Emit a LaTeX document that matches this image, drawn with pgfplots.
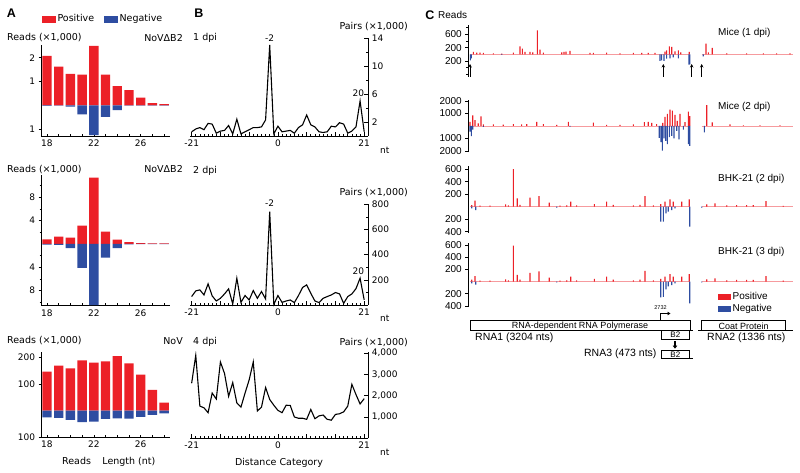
\documentclass[border=0pt]{standalone}
\usepackage{pgfplots}
\usepackage{pgfplotstable}
\pgfplotsset{compat=1.18}
\usepackage{fontspec}
\setmainfont{DejaVu Sans}
\newfontfamily\arl{Liberation Sans}
\usetikzlibrary{arrows.meta}
\definecolor{cred}{RGB}{236,32,39}
\definecolor{cblue}{RGB}{46,77,161}
\newcommand{\fA}{\fontsize{9.5}{11}\selectfont}
\newcommand{\fT}{\fontsize{9}{10}\selectfont}
\newcommand{\fC}{\arl\fontsize{10}{12}\selectfont}

% ---------- Panel A data ----------
\pgfplotstableread{
x pos neg
18 2.08 -0.02
19 1.62 -0.01
20 1.32 -0.06
21 1.29 -0.38
22 2.50 -1.25
23 1.29 -0.49
24 0.81 -0.20
25 0.64 -0.01
26 0.32 -0.01
27 0.09 -0.01
28 0.05 -0.01
}\dataAa
\pgfplotstableread{
x pos neg
18 0.80 -0.12
19 1.25 -0.17
20 1.08 -0.69
21 3.14 -4.10
22 11.40 -10.50
23 2.10 -2.35
24 0.74 -0.69
25 0.30 -0.05
26 0.15 -0.03
27 0.12 -0.03
28 0.10 -0.03
}\dataAb
\pgfplotstableread{
x pos neg
18 147 -25
19 170 -27
20 160 -35
21 190 -43
22 181 -41
23 186 -31
24 206 -29
25 179 -30
26 136 -23
27 79 -16
28 30 -10
}\dataAc
% ---------- Panel B data ----------
\pgfplotstableread{
x y
-21 0.6
-20 1.0
-19 1.2
-18 0.9
-17 1.8
-16 1.7
-15 0.4
-14 0.7
-13 0.8
-12 1.5
-11 0.3
-10 2.4
-9 0.3
-8 0.6
-7 0.9
-6 1.2
-5 1.2
-4 1.3
-3 2.3
-2 13.0
-1 0.3
0 1.4
1 0.6
2 0.7
3 0.8
4 0.4
5 1.2
6 1.6
7 3.0
8 1.6
9 1.3
10 0.6
11 0.5
12 0.6
13 1.4
14 1.3
15 1.9
16 1.7
17 0.4
18 0.7
19 1.3
20 5.0
21 0.6
}\dataBa
\pgfplotstableread{
x y
-21 67
-20 112
-19 120
-18 80
-17 168
-16 72
-15 32
-14 53
-13 88
-12 128
-11 8
-10 213
-9 21
-8 75
-7 40
-6 115
-5 53
-4 107
-3 48
-2 741
-1 5
0 75
1 21
2 32
3 40
4 19
5 75
6 139
7 160
8 93
9 32
10 19
11 53
12 67
13 80
14 99
15 88
16 13
17 67
18 88
19 130
20 213
21 40
}\dataBb
\pgfplotstableread{
x y
-21 2580
-20 3890
-19 1510
-18 1430
-17 1200
-16 2120
-15 1840
-14 3580
-13 3040
-12 1970
-11 2610
-10 1660
-9 1460
-8 2120
-7 2740
-6 3580
-5 1280
-4 1460
-3 2380
-2 1820
-1 1550
0 1310
1 1200
2 1550
3 1540
4 1000
5 940
6 940
7 890
8 1350
9 920
10 1050
11 1090
12 890
13 850
14 1120
15 1150
16 1240
17 1510
18 2530
19 2050
20 1610
21 1860
}\dataBc
% ---------- Panel C data (position in nt, reads) ----------
\pgfplotstableread{
x y
49 70
97 50
146 50
194 40
340 30
461 20
631 50
728 240
762 170
801 70
874 70
913 60
981 720
1019 140
1068 50
1335 60
1369 70
1398 80
1456 100
1748 40
1796 40
1990 50
2184 30
2379 40
2500 40
2597 40
2694 40
2840 80
2864 120
2903 240
2937 220
2985 90
3034 120
3068 60
3194 70
3437 320
3471 60
3529 190
3738 30
4029 30
4272 30
4466 30
4660 30
}\dataCaP
\pgfplotstableread{
x y
5 -180
20 -120
461 -20
2767 -200
2791 -180
2825 -200
2864 -130
2913 -120
2961 -90
3034 -120
3190 -310
3200 -300
3398 -60
}\dataCaN
\pgfplotstableread{
x y
0 330
39 850
73 460
121 200
160 770
194 130
340 130
485 100
631 150
752 130
825 150
971 330
1068 150
1262 80
1432 330
1796 260
1990 80
2184 80
2379 130
2539 300
2597 330
2646 250
2718 150
2806 250
2840 720
2874 970
2913 1300
2947 1230
2985 880
3019 400
3058 970
3131 300
3180 1150
3200 780
3447 1660
3529 280
3786 130
3981 50
4223 50
4515 50
}\dataCbP
\pgfplotstableread{
x y
0 -450
20 -820
40 -300
194 -80
1456 -60
2757 -950
2782 -1300
2801 -1970
2825 -1000
2850 -1200
2874 -1460
2903 -900
2937 -800
2971 -1000
3010 -400
3044 -1075
3107 -300
3180 -1460
3200 -1600
3413 -510
}\dataCbN
\pgfplotstableread{
x y
24 27
73 96
146 16
291 16
519 37
558 20
631 600
689 133
728 30
874 144
1005 170
1155 64
1311 16
1408 20
1466 80
1553 20
1811 43
1990 80
2087 30
2379 20
2476 30
2549 170
2670 20
2777 43
2840 80
2913 117
2961 80
3083 80
3194 117
3447 37
3568 53
3738 20
3883 27
4029 27
4126 27
4311 90
4563 15
}\dataCcP
\pgfplotstableread{
x y
24 -27
83 -53
1262 -15
2777 -240
2816 -240
2854 -107
2888 -80
2937 -53
2985 -27
3200 -320
3374 -15
}\dataCcN
\pgfplotstableread{
x y
24 30
73 90
146 16
291 16
519 37
558 20
631 587
689 110
728 30
874 140
1005 165
1155 64
1311 16
1408 20
1466 80
1553 20
1811 45
1990 80
2087 30
2379 20
2476 30
2549 175
2670 20
2777 45
2840 80
2913 120
2961 80
3083 80
3194 120
3447 37
3568 53
3738 20
3883 27
4029 27
4126 27
4311 90
4563 15
}\dataCdP
\pgfplotstableread{
x y
24 -30
83 -50
1262 -15
2777 -260
2816 -250
2854 -130
2888 -80
2937 -60
2985 -30
3200 -360
3374 -15
}\dataCdN

\pgfplotsset{
  common/.style={scale only axis, axis line style={-, line width=0.6pt},
    tick style={black, line width=0.6pt},
    /pgf/number format/assume math mode=true},
  Aax/.style={common, width=128.3pt, xmin=17.55, xmax=28.5,
    axis x line*=bottom, axis y line*=left,
    xtick={18,...,28}, xticklabels={18,,,,22,,,,26,,},
    xtick align=inside, ytick align=outside,
    major tick length=3pt, minor tick length=2pt,
    ticklabel style={font=\fT}},
  barp/.style={ybar, bar width=0.8, bar shift=0pt, draw=none},
  Bax/.style={common, width=178.3pt, xmin=-21.4, xmax=22, ymin=0,
    axis x line*=bottom, axis y line*=right,
    xtick={-21,-14,...,21}, xticklabels={-21,,,0,,,21},
    minor xtick={-21,...,21}, tick align=inside,
    major tick length=4pt, minor tick length=2.2pt,
    ticklabel style={font=\fT}, scaled y ticks=false},
  Cax/.style={common, width=325.1pt, xmin=-25, xmax=4710,
    axis x line=none, axis y line*=left, xtick=\empty,
    ytick align=outside, major tick length=3pt, minor tick length=2pt,
    yticklabel style={font=\fC}},
  combp/.style={ybar, bar width=17, bar shift=0pt, draw=none},
  base/.style={cred!45, line width=0.6pt, mark=none, forget plot},
  Aleg/.style={legend style={at={(axis description cs:#1)}, anchor=west,
    draw=none, fill=none, font=\fA, inner xsep=0pt, inner ysep=0pt}},
}

\begin{document}
\begin{tikzpicture}
\path[use as bounding box] (0,0) rectangle (800pt,-473pt);

% ================= Panel A =================
\begin{axis}[Aax, at={(41.7pt,-45.1pt)}, anchor=north west, height=91.6pt,
  ymin=-1.32, ymax=2.53, ytick={-1,1,2}, yticklabels={1,1,2},
  Aleg={0.002,1.285}]
\addlegendimage{legend image code/.code={\fill[cred] (0pt,-3.2pt) rectangle (13pt,3.2pt);}}
\addlegendentry{Positive}
\addplot[barp, fill=cred, forget plot] table[x=x,y=pos]{\dataAa};
\addplot[barp, fill=cblue, forget plot] table[x=x,y=neg]{\dataAa};
\end{axis}

\begin{axis}[Aax, at={(41.7pt,-174.6pt)}, anchor=north west, height=131.2pt,
  ymin=-10.6, ymax=11.9, ytick={-8,-4,4,8}, yticklabels={8,4,4,8},
  minor ytick={-10,-6,-2,2,6,10},
  Aleg={0.4856,2.186}]
\addlegendimage{legend image code/.code={\fill[cblue] (0pt,-3.2pt) rectangle (13pt,3.2pt);}}
\addlegendentry{Negative}
\addplot[barp, fill=cred, forget plot] table[x=x,y=pos]{\dataAb};
\addplot[barp, fill=cblue, forget plot] table[x=x,y=neg]{\dataAb};
\end{axis}

\begin{axis}[Aax, at={(41.7pt,-351.7pt)}, anchor=north west, height=86pt,
  ymin=-101.9, ymax=222.6, ytick={-100,100,200}, yticklabels={100,100,200}]
\addplot[barp, fill=cred] table[x=x,y=pos]{\dataAc};
\addplot[barp, fill=cblue] table[x=x,y=neg]{\dataAc};
\end{axis}

% ================= Panel B =================
\begin{axis}[Bax, at={(190pt,-38pt)}, anchor=north west, height=98pt,
  ymax=14, ytick={2,6,10,14}, minor ytick={4,8,12}, clip=false]
\addplot[black, line width=1.1pt, mark=none] table{\dataBa};
\node[font=\fT, anchor=south, inner sep=1pt] at (axis cs:-2,13.3) {-2};
\node[font=\fT, anchor=south, inner sep=1pt] at (axis cs:19.6,5.4) {20};
\end{axis}

\begin{axis}[Bax, at={(190pt,-204.3pt)}, anchor=north west, height=100.7pt,
  ymax=800, ytick={200,400,600,800}, minor ytick={100,300,500,700}, clip=false]
\addplot[black, line width=1.1pt, mark=none] table{\dataBb};
\node[font=\fT, anchor=south, inner sep=1pt] at (axis cs:-2,770) {-2};
\node[font=\fT, anchor=south, inner sep=1pt] at (axis cs:19.6,232) {20};
\end{axis}

\begin{axis}[Bax, at={(190pt,-351.9pt)}, anchor=north west, height=86.4pt,
  ymax=4050, ytick={1000,2000,3000,4000}]
\addplot[black, line width=1.1pt, mark=none] table{\dataBc};
\end{axis}

% ================= Panel C =================
\begin{axis}[Cax, at={(468.3pt,-25.3pt)}, anchor=north west, height=51.3pt,
  ymin=-670, ymax=870, ytick={-200,200,600}, yticklabels={200,200,600},
  minor ytick={-600,-400,400,800}]
\addplot[base] coordinates {(0,0) (3204,0)};
\addplot[base] coordinates {(3374,0) (4710,0)};
\addplot[combp, fill=cred] table{\dataCaP};
\addplot[combp, fill=cblue] table{\dataCaN};
\end{axis}

\begin{axis}[Cax, at={(468.3pt,-99.75pt)}, anchor=north west, height=52.5pt,
  ymin=-2100, ymax=2100, ytick={-2000,-1000,1000,2000},
  yticklabels={2000,1000,1000,2000}]
\addplot[base] coordinates {(0,0) (3204,0)};
\addplot[base] coordinates {(3374,0) (4710,0)};
\addplot[combp, fill=cred] table{\dataCbP};
\addplot[combp, fill=cblue] table{\dataCbN};
\end{axis}

\begin{axis}[Cax, at={(468.3pt,-166.1pt)}, anchor=north west, height=66.9pt,
  ymin=-420, ymax=650, ytick={-400,-200,200,400,600},
  yticklabels={400,200,200,400,600}]
\addplot[base] coordinates {(0,0) (3204,0)};
\addplot[base] coordinates {(3374,0) (4710,0)};
\addplot[combp, fill=cred] table{\dataCcP};
\addplot[combp, fill=cblue] table{\dataCcN};
\end{axis}

\begin{axis}[Cax, at={(468.3pt,-243.1pt)}, anchor=north west, height=64.05pt,
  ymin=-420, ymax=630, ytick={-400,-200,200,400,600},
  yticklabels={400,200,200,400,600},
  legend cell align=left,
  legend style={at={(axis description cs:0.768,0.26)}, anchor=north west, draw=none, fill=none,
    font=\fC, inner xsep=0pt, inner ysep=0pt,
    /tikz/every odd row/.append style={row sep=-1pt}}]
\addlegendimage{legend image code/.code={\fill[cred] (0pt,-2.5pt) rectangle (12pt,2.5pt);}}
\addlegendentry{Positive}
\addlegendimage{legend image code/.code={\fill[cblue] (0pt,-2.5pt) rectangle (12pt,2.5pt);}}
\addlegendentry{Negative}
\addplot[base] coordinates {(0,0) (3204,0)};
\addplot[base] coordinates {(3374,0) (4710,0)};
\addplot[combp, fill=cred, forget plot] table{\dataCdP};
\addplot[combp, fill=cblue, forget plot] table{\dataCdN};
\end{axis}

% ================= Annotations =================
\begin{scope}[x=1pt,y=-1pt]
% panel letters
\node[font=\arl\bfseries\fontsize{12.5}{14}\selectfont] at (11.5,13) {A};
\node[font=\arl\bfseries\fontsize{12.5}{14}\selectfont] at (199,13.5) {B};
\node[font=\arl\bfseries\fontsize{12.5}{14}\selectfont] at (430,15) {C};
% panel A texts
\node[font=\fA, anchor=west, inner sep=0pt] at (7,37.7) {Reads (×1,000)};
\node[font=\fA, anchor=east, inner sep=0pt] at (183,37.7) {NoVΔB2};
\node[font=\fA, anchor=west, inner sep=0pt] at (7,169.3) {Reads (×1,000)};
\node[font=\fA, anchor=east, inner sep=0pt] at (183,169.3) {NoVΔB2};
\node[font=\fA, anchor=west, inner sep=0pt] at (7,341) {Reads (×1,000)};
\node[font=\fA, anchor=east, inner sep=0pt] at (183,341) {NoV};
\node[font=\fA, anchor=west, inner sep=0pt] at (62,461.7) {Reads\hspace{1.2em}Length (nt)};
% panel B texts
\node[font=\fA, anchor=west, inner sep=0pt] at (193,38) {1 dpi};
\node[font=\fA, anchor=west, inner sep=0pt] at (193,171) {2 dpi};
\node[font=\fA, anchor=west, inner sep=0pt] at (193,341.5) {4 dpi};
\node[font=\fA, anchor=east, inner sep=0pt] at (408,27) {Pairs (×1,000)};
\node[font=\fA, anchor=east, inner sep=0pt] at (408,192.7) {Pairs (×1,000)};
\node[font=\fA, anchor=east, inner sep=0pt] at (408,342.5) {Pairs (×1,000)};
\node[font=\fT, anchor=west, inner sep=0pt] at (380,150) {nt};
\node[font=\fT, anchor=west, inner sep=0pt] at (380,318.5) {nt};
\node[font=\fT, anchor=west, inner sep=0pt] at (380,452.5) {nt};
\node[font=\fA, inner sep=0pt] at (279,463) {Distance Category};
% panel C texts
\node[font=\fC, anchor=west, inner sep=0pt] at (438,15) {Reads};
\node[font=\fC, anchor=west, inner sep=0pt] at (718,33) {Mice (1 dpi)};
\node[font=\fC, anchor=west, inner sep=0pt] at (718,106.7) {Mice (2 dpi)};
\node[font=\fC, anchor=west, inner sep=0pt] at (718,179.3) {BHK-21 (2 dpi)};
\node[font=\fC, anchor=west, inner sep=0pt] at (718,251.7) {BHK-21 (3 dpi)};
% arrows under Mice (1 dpi)
\foreach \ax in {470,663.3,691.7,701.7}
  \draw[line width=0.8pt, -{Stealth[length=3.5pt,width=3.5pt]}] (\ax,77) -- (\ax,64);
% genome map
\draw[line width=0.6pt] (470,320.7) rectangle (690,330.7);
\draw[line width=0.6pt] (690,330.7) -- (693,330.7);
\node[font=\arl\fontsize{9}{10}\selectfont, inner sep=0pt] at (580,326) {RNA-dependent RNA Polymerase};
\draw[line width=0.6pt] (661.3,330.7) rectangle (689.3,339.3);
\node[font=\arl\fontsize{8}{9}\selectfont, inner sep=0pt] at (675.3,335.2) {B2};
\node[font=\arl\fontsize{10.5}{12}\selectfont, anchor=west, inner sep=0pt] at (475,337.7) {RNA1 (3204 nts)};
\draw[line width=0.6pt] (698,330.7) -- (793,330.7);
\draw[line width=0.6pt] (701.7,320.7) rectangle (785.7,330.7);
\node[font=\arl\fontsize{9}{10}\selectfont, inner sep=0pt] at (743.7,326) {Coat Protein};
\node[font=\arl\fontsize{10.5}{12}\selectfont, anchor=west, inner sep=0pt] at (707,337.7) {RNA2 (1336 nts)};
\draw[line width=0.8pt, -{Triangle[length=3pt,width=3.5pt]}] (660.7,320.7) -- (660.7,313.5) -- (670.5,313.5);
\node[font=\arl\fontsize{5.5}{6}\selectfont, inner sep=0pt] at (660.5,307.3) {2732};
\draw[line width=1.3pt, -{Triangle[length=3pt,width=4.5pt]}] (675,341.3) -- (675,348.6);
\draw[line width=0.6pt] (661.3,350) rectangle (689.3,358.3);
\draw[line width=0.6pt] (689.3,358.3) -- (693.3,358.3);
\node[font=\arl\fontsize{8}{9}\selectfont, inner sep=0pt] at (675.3,354.3) {B2};
\node[font=\arl\fontsize{10.5}{12}\selectfont, anchor=east, inner sep=0pt] at (656.7,353.5) {RNA3 (473 nts)};
\end{scope}
\end{tikzpicture}
\end{document}
